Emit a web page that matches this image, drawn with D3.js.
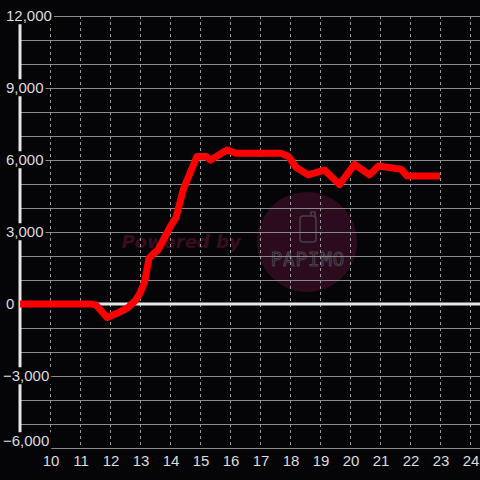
<!DOCTYPE html>
<html>
<head>
<meta charset="utf-8">
<script src="https://cdn.jsdelivr.net/npm/d3@7"></script>
<style>
  html, body { margin: 0; padding: 0; background: #050508; }
  svg { display: block; }
</style>
</head>
<body>
<div id="chart"></div>
<script>
// values
const hours = [9, 11.4, 11.55, 11.9, 12.3, 12.6, 12.85, 13.0, 13.15, 13.3, 13.45, 13.6, 14.0, 14.2, 14.45, 14.9, 15.2, 15.35, 15.9, 16.2, 17.7, 17.95, 18.2, 18.6, 19.15, 19.65, 20.15, 20.65, 20.95, 21.5, 21.7, 21.9, 23.0];
const balance = [0, 0, -60, -560, -350, -150, 150, 450, 900, 1900, 2100, 2250, 3200, 3600, 4800, 6150, 6150, 6000, 6420, 6280, 6280, 6150, 5700, 5380, 5580, 4980, 5820, 5380, 5750, 5650, 5620, 5330, 5330];
const xTicks = [10, 11, 12, 13, 14, 15, 16, 17, 18, 19, 20, 21, 22, 23, 24];
const yTicks = [12000, 9000, 6000, 3000, 0, -3000, -6000];
const yGrid = d3.range(-6000, 12001, 1000);

const plotWidth = 480;
const plotHeight = 480;
const plotLeft = 20;
const plotTop = 16;
const plotBottom = 448;

const svg = d3.select('#chart')
  .append('svg')
  .attr('width', plotWidth)
  .attr('height', plotHeight)
  .style('background', '#050508');

const xScale = d3.scaleLinear().domain([9, 24.333]).range([plotLeft, plotWidth]);
const yScale = d3.scaleLinear().domain([-6000, 12000]).range([plotBottom, plotTop]);

// watermark sits under the grid
const wm = svg.append('g');
wm.append('circle')
  .attr('cx', 307).attr('cy', 242).attr('r', 50)
  .attr('fill', '#2b0b1d');
wm.append('text')
  .attr('x', 181).attr('y', 248)
  .attr('text-anchor', 'middle')
  .style('font-family', 'DejaVu Sans, sans-serif')
  .style('font-size', '18px')
  .style('font-weight', 'bold')
  .style('font-style', 'italic')
  .attr('fill', '#3a0c20')
  .text('Powered by');
wm.append('rect')
  .attr('x', 300).attr('y', 216).attr('width', 16).attr('height', 26).attr('rx', 3)
  .attr('fill', 'none').attr('stroke', '#464046').attr('stroke-width', 1.5);
wm.append('path')
  .attr('d', 'M311,216 V212 H315 V218')
  .attr('fill', 'none').attr('stroke', '#464046').attr('stroke-width', 1.5);
wm.append('text')
  .attr('x', 308).attr('y', 266)
  .attr('text-anchor', 'middle')
  .style('font-family', 'DejaVu Sans Mono, monospace')
  .style('font-size', '19px')
  .style('letter-spacing', '1px')
  .attr('fill', 'none')
  .attr('stroke', '#4a444a')
  .attr('stroke-width', 1)
  .text('PAPIMO');

// horizontal grid
svg.append('g')
  .selectAll('line')
  .data(yGrid)
  .join('line')
  .attr('x1', plotLeft).attr('x2', plotWidth)
  .attr('y1', (d) => yScale(d) + 0.5)
  .attr('y2', (d) => yScale(d) + 0.5)
  .attr('stroke', '#8a8a8a')
  .attr('stroke-width', 1);

// vertical dotted grid
svg.append('g')
  .selectAll('line')
  .data(xTicks)
  .join('line')
  .attr('x1', (d) => Math.round(xScale(d)) + 0.5)
  .attr('x2', (d) => Math.round(xScale(d)) + 0.5)
  .attr('y1', plotTop).attr('y2', plotBottom)
  .attr('stroke', '#9a9a9a')
  .attr('stroke-width', 1)
  .attr('stroke-dasharray', '3,3');

// zero line and y axis
svg.append('line')
  .attr('x1', plotLeft).attr('x2', plotWidth)
  .attr('y1', yScale(0)).attr('y2', yScale(0))
  .attr('stroke', '#e6e6e6').attr('stroke-width', 3);
svg.append('line')
  .attr('x1', plotLeft).attr('x2', plotLeft)
  .attr('y1', plotTop).attr('y2', plotBottom)
  .attr('stroke', '#e6e6e6').attr('stroke-width', 3);

// the series
svg.append('path')
  .datum(hours.map((h, i) => [h, balance[i]]))
  .attr('fill', 'none')
  .attr('stroke', '#ff0000')
  .attr('stroke-width', 7)
  .attr('stroke-linejoin', 'round')
  .attr('stroke-linecap', 'butt')
  .attr('d', d3.line().x((d) => xScale(d[0])).y((d) => yScale(d[1])));

// y labels with black boxes over axis and grid
const fmt = d3.format(',');
const yLab = svg.append('g');
yTicks.forEach((v) => {
  const g = yLab.append('g');
  const t = g.append('text')
    .attr('x', v < 0 ? 3 : 6)
    .attr('y', Math.min(yScale(v), 441))
    .attr('dy', '0.35em')
    .style('font-family', 'Liberation Sans, Arial, sans-serif')
    .style('font-size', '15px')
    .attr('fill', '#dcdcdc')
    .text(fmt(v));
  const b = t.node().getBBox();
  g.insert('rect', 'text')
    .attr('x', b.x - 2).attr('y', b.y)
    .attr('width', b.width + 4).attr('height', b.height)
    .attr('fill', '#050508');
});

// x labels
svg.append('g')
  .selectAll('text')
  .data(xTicks)
  .join('text')
  .attr('x', (d) => xScale(d) + 1)
  .attr('y', 461)
  .attr('dy', '0.35em')
  .attr('text-anchor', 'middle')
  .style('font-family', 'Liberation Sans, Arial, sans-serif')
  .style('font-size', '15px')
  .attr('fill', '#dcdcdc')
  .text((d) => d);
</script>
</body>
</html>
